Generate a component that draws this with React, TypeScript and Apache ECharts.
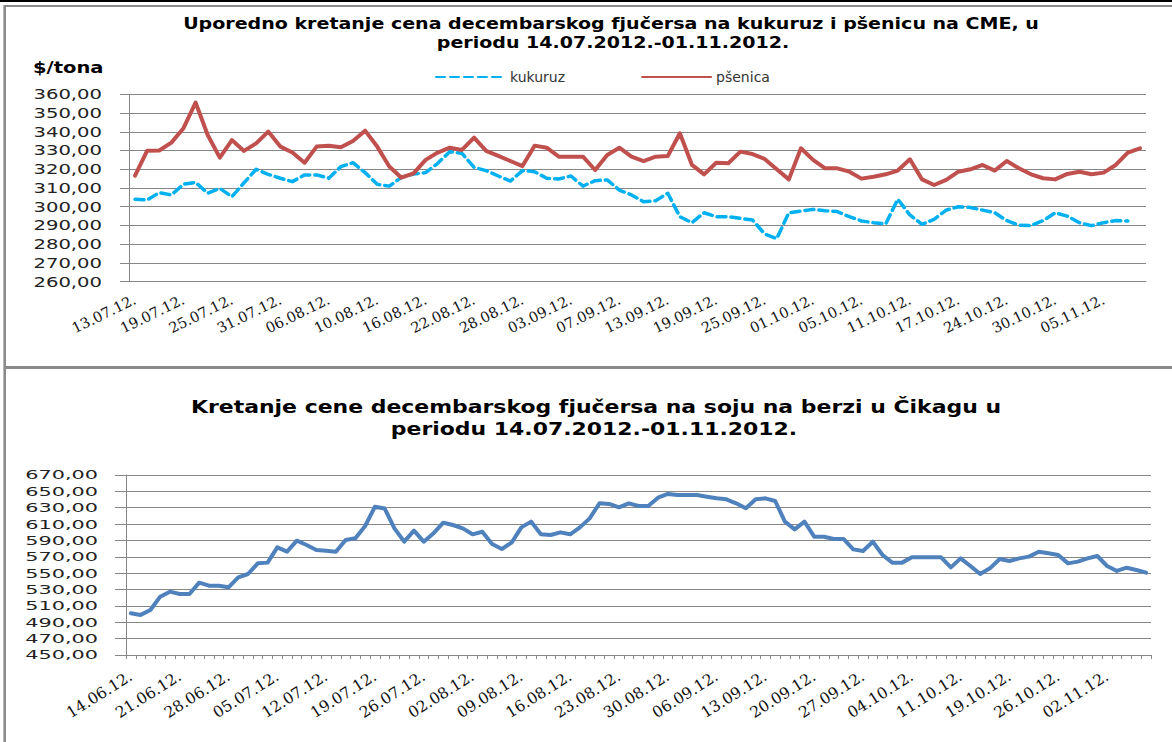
import React, { useEffect, useRef } from "react";
import * as echarts from "echarts";

// ---------- Top chart: corn & wheat December futures (CME), $/t ----------
const topDates = [
  "13.07.12.", "16.07.12.", "17.07.12.", "18.07.12.", "19.07.12.",
  "20.07.12.", "23.07.12.", "24.07.12.", "25.07.12.",
  "26.07.12.", "27.07.12.", "30.07.12.", "31.07.12.",
  "01.08.12.", "02.08.12.", "03.08.12.", "06.08.12.",
  "07.08.12.", "08.08.12.", "09.08.12.", "10.08.12.",
  "13.08.12.", "14.08.12.", "15.08.12.", "16.08.12.",
  "17.08.12.", "20.08.12.", "21.08.12.", "22.08.12.",
  "23.08.12.", "24.08.12.", "27.08.12.", "28.08.12.",
  "29.08.12.", "30.08.12.", "31.08.12.", "03.09.12.",
  "04.09.12.", "05.09.12.", "06.09.12.", "07.09.12.",
  "10.09.12.", "11.09.12.", "12.09.12.", "13.09.12.",
  "14.09.12.", "17.09.12.", "18.09.12.", "19.09.12.",
  "20.09.12.", "21.09.12.", "24.09.12.", "25.09.12.",
  "26.09.12.", "27.09.12.", "28.09.12.", "01.10.12.",
  "02.10.12.", "03.10.12.", "04.10.12.", "05.10.12.",
  "08.10.12.", "09.10.12.", "10.10.12.", "11.10.12.",
  "12.10.12.", "15.10.12.", "16.10.12.", "17.10.12.",
  "18.10.12.", "19.10.12.", "22.10.12.", "24.10.12.",
  "25.10.12.", "26.10.12.", "29.10.12.", "30.10.12.",
  "31.10.12.", "01.11.12.", "02.11.12.", "05.11.12.",
  "06.11.12.", "07.11.12.", "08.11.12.",
];

const cornValues: (number | null)[] = [
  304, 303.6, 307.5, 306.3, 312, 313, 307.2, 309.8, 305.4, 312.8,
  320, 317.3, 315.2, 313.4, 317, 317, 315.2, 321.4, 323.5, 318.2,
  312, 311, 315.7, 317.5, 318.2, 323.2, 329.4, 328.5, 321, 319.3,
  316.4, 313.7, 319.3, 318.7, 315.2, 314.8, 316.4, 311, 313.9, 314.3,
  308.9, 306.3, 302.7, 303.2, 307.2, 294.7, 291.5, 296.8, 294.7, 294.7,
  293.8, 292.9, 285.5, 283, 296.8, 297.7, 298.6, 297.9, 297.4, 294.7,
  292.4, 291.5, 290.8, 304, 295.6, 290.6, 293.3, 298.2, 300, 299.6,
  298.2, 296.8, 292.6, 290.2, 289.9, 292.6, 296.8, 295, 291.5, 289.9,
  291.5, 292.6, 292.4, null,
];

const wheatValues = [
  316.6, 329.9, 330, 334.2, 341.9, 355.6, 338.3, 326.2, 335.6, 329.8,
  333.8, 340.1, 332.1, 328.9, 323.5, 332.1, 332.6, 331.7, 335.1, 340.6,
  332.1, 321.5, 315.5, 317.8, 325, 328.9, 331.5, 330.3, 336.9, 329.8,
  327.1, 324.4, 321.7, 332.6, 331.5, 326.7, 326.7, 326.7, 319.6, 327.6,
  331.5, 326.7, 324.4, 326.7, 327.1, 339.2, 322.3, 317.3, 323.5, 323.2,
  329.4, 328.1, 325.5, 320, 314.6, 331.2, 325, 320.5, 320.5, 318.7,
  315, 316, 317.3, 319.3, 325.3, 314.6, 311.6, 314.3, 318.7, 320,
  322.3, 319.3, 324.4, 320.5, 317.3, 315.2, 314.6, 317.5, 318.7, 317.3,
  318.2, 322.3, 328.9, 331.2,
];

const topYTicks = [260, 270, 280, 290, 300, 310, 320, 330, 340, 350, 360];

// ---------- Bottom chart: soybean December futures (Chicago) ----------
const soyDates = [
  "14.06.12.", "15.06.12.", "18.06.12.", "19.06.12.", "20.06.12.",
  "21.06.12.", "22.06.12.", "25.06.12.", "26.06.12.", "27.06.12.",
  "28.06.12.", "29.06.12.", "02.07.12.", "03.07.12.", "04.07.12.",
  "05.07.12.", "06.07.12.", "09.07.12.", "10.07.12.", "11.07.12.",
  "12.07.12.", "13.07.12.", "16.07.12.", "17.07.12.", "18.07.12.",
  "19.07.12.", "20.07.12.", "23.07.12.", "24.07.12.", "25.07.12.",
  "26.07.12.", "27.07.12.", "30.07.12.", "31.07.12.", "01.08.12.",
  "02.08.12.", "03.08.12.", "06.08.12.", "07.08.12.", "08.08.12.",
  "09.08.12.", "10.08.12.", "13.08.12.", "14.08.12.", "15.08.12.",
  "16.08.12.", "17.08.12.", "20.08.12.", "21.08.12.", "22.08.12.",
  "23.08.12.", "24.08.12.", "27.08.12.", "28.08.12.", "29.08.12.",
  "30.08.12.", "31.08.12.", "03.09.12.", "04.09.12.", "05.09.12.",
  "06.09.12.", "07.09.12.", "10.09.12.", "11.09.12.", "12.09.12.",
  "13.09.12.", "14.09.12.", "17.09.12.", "18.09.12.", "19.09.12.",
  "20.09.12.", "21.09.12.", "24.09.12.", "25.09.12.", "26.09.12.",
  "27.09.12.", "28.09.12.", "01.10.12.", "02.10.12.", "03.10.12.",
  "04.10.12.", "05.10.12.", "08.10.12.", "09.10.12.", "10.10.12.",
  "11.10.12.", "12.10.12.", "15.10.12.", "16.10.12.", "18.10.12.",
  "19.10.12.", "22.10.12.", "23.10.12.", "24.10.12.", "25.10.12.",
  "26.10.12.", "29.10.12.", "30.10.12.", "31.10.12.", "01.11.12.",
  "02.11.12.", "05.11.12.", "06.11.12.", "07.11.12.", "08.11.12.",
];

const soyValues = [
  501, 499, 505, 521.3, 527.4, 524.6, 524.6, 538.4, 534.7, 534.7,
  532.7, 544.9, 549, 562, 562.9, 581.6, 576.3, 589.7, 584.4, 578.3,
  577.5, 576.3, 590.6, 592.6, 607.7, 631.3, 629, 604.8, 588.5, 602,
  588.5, 598.7, 611.7, 608.9, 604.8, 597.5, 600.7, 585.7, 579.6, 587.3,
  606, 613, 597.5, 596.7, 599.9, 597.5, 606, 617, 635.4, 634.6,
  630.5, 635.4, 632.1, 632.1, 642.3, 646.8, 645.6, 645.6, 645.6, 643.5,
  641.5, 640.3, 635.4, 629.3, 640.3, 641.5, 638.2, 613, 603.6, 613,
  594.6, 594.6, 591.8, 591.8, 579.1, 577.1, 588.5, 572.2, 562.9, 562.9,
  569.4, 569.4, 569.4, 569.4, 557.1, 568.1, 558.8, 549, 555.9, 567.3,
  564.9, 568.1, 570.2, 576.3, 574.3, 572.2, 562, 564.1, 568.1, 571,
  558.8, 552.7, 556.7, 553.9, 550.6,
];

const soyYTicks = [450, 470, 490, 510, 530, 550, 570, 590, 610, 630, 650, 670];

const topTitle = [
  "Uporedno kretanje cena decembarskog fjučersa na kukuruz i pšenicu na CME, u",
  "periodu 14.07.2012.-01.11.2012.",
];
const bottomTitle = [
  "Kretanje cene decembarskog fjučersa na soju na berzi u Čikagu u",
  "periodu 14.07.2012.-01.11.2012.",
];
const unitLabel = "$/tona";
const seriesNames = ["kukuruz", "pšenica"];

const GRID_GRAY = "#868686";
const BORDER_GRAY = "#8a8a8a";
const TOP_GRID = { left: 129, right: 26, top: 94.3, height: 187.4 };
const BOT_GRID = { left: 126, right: 21, top: 475, height: 180 };

const fmt = (v: number) => v.toFixed(2).replace(".", ",");

export default function App() {
  const ref = useRef<HTMLDivElement>(null);

  useEffect(() => {
    if (!ref.current) return;
    const chart = echarts.init(ref.current, null, { renderer: "svg" });

    const soyMin = soyYTicks[0];
    const soyStep = soyYTicks[1] - soyYTicks[0];
    const topMin = topYTicks[0];
    const topStep = topYTicks[1] - topYTicks[0];

    const xLabelBase = {
      fontFamily: "DejaVu Serif",
      color: "#111",
    };

    const frameAndTitles: any[] = [
      { id: "f1", type: "rect", shape: { x: 0, y: 0, width: 1172, height: 2 }, style: { fill: "#000" }, silent: true },
      { id: "f2", type: "line", shape: { x1: 4, y1: 6, x2: 1172, y2: 6 }, style: { stroke: BORDER_GRAY, lineWidth: 2 }, silent: true },
      { id: "f3", type: "line", shape: { x1: 4.7, y1: 5, x2: 4.7, y2: 742 }, style: { stroke: BORDER_GRAY, lineWidth: 2.6 }, silent: true },
      { id: "f4", type: "line", shape: { x1: 4, y1: 367.5, x2: 1172, y2: 367.5 }, style: { stroke: BORDER_GRAY, lineWidth: 3 }, silent: true },
      {
        id: "t1", type: "text", x: 611, y: 23.5, scaleX: 1.27,
        style: { text: topTitle[0], fontFamily: "DejaVu Sans", fontWeight: "bold", fontSize: 15, fill: "#000", textAlign: "center", textVerticalAlign: "middle" },
      },
      {
        id: "t2", type: "text", x: 613, y: 42.5, scaleX: 1.27,
        style: { text: topTitle[1], fontFamily: "DejaVu Sans", fontWeight: "bold", fontSize: 15, fill: "#000", textAlign: "center", textVerticalAlign: "middle" },
      },
      {
        id: "t3", type: "text", x: 33, y: 67.5, scaleX: 1.22,
        style: { text: unitLabel, fontFamily: "DejaVu Sans", fontWeight: "bold", fontSize: 16, fill: "#000", textAlign: "left", textVerticalAlign: "middle" },
      },
      {
        id: "t4", type: "text", x: 596, y: 407, scaleX: 1.22,
        style: { text: bottomTitle[0], fontFamily: "DejaVu Sans", fontWeight: "bold", fontSize: 18, fill: "#000", textAlign: "center", textVerticalAlign: "middle" },
      },
      {
        id: "t5", type: "text", x: 594, y: 428.5, scaleX: 1.22,
        style: { text: bottomTitle[1], fontFamily: "DejaVu Sans", fontWeight: "bold", fontSize: 18, fill: "#000", textAlign: "center", textVerticalAlign: "middle" },
      },
    ];

    const option: any = {
      animation: false,
      backgroundColor: "#ffffff",
      grid: [
        { ...TOP_GRID, containLabel: false },
        { ...BOT_GRID, containLabel: false },
      ],
      legend: {
        data: seriesNames,
        left: 430,
        top: 65,
        itemWidth: 69,
        itemHeight: 12,
        itemGap: 76,
        itemStyle: { opacity: 0 },
        textStyle: { fontFamily: "DejaVu Sans", fontSize: 14, color: "#333" },
      },
      xAxis: [
        {
          type: "category",
          gridIndex: 0,
          data: topDates,
          boundaryGap: true,
          axisLine: { show: true, lineStyle: { color: GRID_GRAY, width: 1 } },
          axisTick: { show: false },
          axisLabel: { ...xLabelBase, fontSize: 14.5, rotate: 26, interval: 3, margin: 17 },
          splitLine: { show: false },
        },
        {
          type: "category",
          gridIndex: 1,
          data: soyDates,
          boundaryGap: true,
          axisLine: { show: true, lineStyle: { color: GRID_GRAY, width: 1 } },
          axisTick: { show: true, interval: 0, length: 4, lineStyle: { color: GRID_GRAY } },
          axisLabel: { ...xLabelBase, fontSize: 15.5, rotate: 32, interval: 4, margin: 20 },
          splitLine: { show: false },
        },
      ],
      yAxis: [
        {
          type: "value",
          gridIndex: 0,
          min: topMin,
          max: topYTicks[topYTicks.length - 1],
          interval: topStep,
          axisLine: { show: true, lineStyle: { color: GRID_GRAY, width: 1 } },
          axisTick: { show: true, length: 9, lineStyle: { color: GRID_GRAY } },
          splitLine: { show: true, lineStyle: { color: GRID_GRAY, width: 1 } },
          axisLabel: { show: false },
        },
        {
          type: "value",
          gridIndex: 1,
          // offset scale so that ticks fall on 450, 470, ... 670
          min: 0,
          max: soyYTicks[soyYTicks.length - 1] - soyMin,
          interval: soyStep,
          axisLine: { show: true, lineStyle: { color: GRID_GRAY, width: 1 } },
          axisTick: { show: true, length: 11, lineStyle: { color: GRID_GRAY } },
          splitLine: { show: true, lineStyle: { color: GRID_GRAY, width: 1 } },
          axisLabel: { show: false },
        },
      ],
      series: [
        {
          name: seriesNames[0],
          type: "line",
          xAxisIndex: 0,
          yAxisIndex: 0,
          data: cornValues,
          symbol: "none",
          connectNulls: false,
          itemStyle: { color: "#00B0F0" },
          lineStyle: { color: "#00B0F0", width: 3.5, type: [9, 5], cap: "round", join: "round" },
        },
        {
          name: seriesNames[1],
          type: "line",
          xAxisIndex: 0,
          yAxisIndex: 0,
          data: wheatValues,
          symbol: "none",
          itemStyle: { color: "#C0504D" },
          lineStyle: { color: "#C0504D", width: 4, cap: "round", join: "round" },
        },
        {
          name: "soja",
          type: "line",
          xAxisIndex: 1,
          yAxisIndex: 1,
          data: soyValues.map((v) => v - soyMin),
          symbol: "none",
          itemStyle: { color: "#4F81BD" },
          lineStyle: { color: "#4F81BD", width: 4, cap: "round", join: "round" },
        },
      ],
      graphic: frameAndTitles,
    };

    chart.setOption(option);

    // Y-axis tick labels, placed through the axes' own scales (stretched like the original)
    const yLabels: any[] = [];
    topYTicks.forEach((v, i) => {
      const py = chart.convertToPixel({ yAxisIndex: 0 }, v) as number;
      yLabels.push({
        id: "ty" + i, type: "text", x: TOP_GRID.left - 27, y: py, scaleX: 1.4,
        style: { text: fmt(v), fontFamily: "DejaVu Sans", fontSize: 14, fill: "#222", textAlign: "right", textVerticalAlign: "middle" },
      });
    });
    soyYTicks.forEach((v, i) => {
      const py = chart.convertToPixel({ yAxisIndex: 1 }, v - soyMin) as number;
      yLabels.push({
        id: "by" + i, type: "text", x: BOT_GRID.left - 28, y: py, scaleX: 1.6,
        style: { text: fmt(v), fontFamily: "DejaVu Sans", fontSize: 13, fill: "#222", textAlign: "right", textVerticalAlign: "middle" },
      });
    });
    chart.setOption({ graphic: [...frameAndTitles, ...yLabels] });

    return () => chart.dispose();
  }, []);

  return (
    <div
      ref={ref}
      style={{ position: "fixed", left: 0, top: 0, width: 1172, height: 742, background: "#fff" }}
    />
  );
}
